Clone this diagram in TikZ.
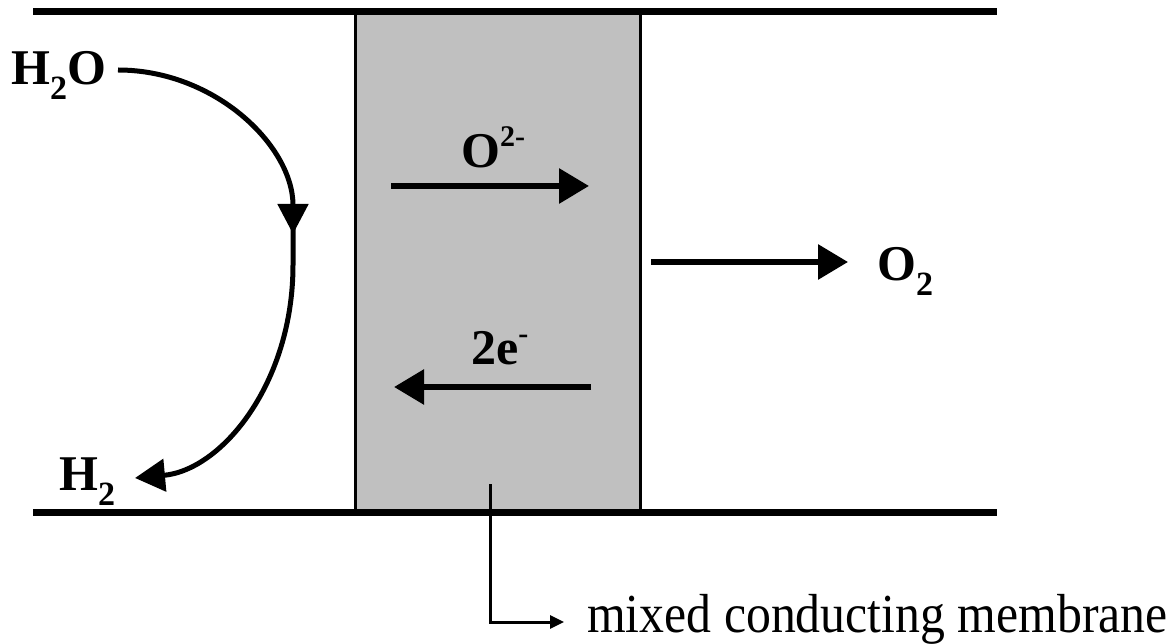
\documentclass[tikz,border=0pt]{standalone}
\usepackage{fontspec}
\setmainfont{Liberation Serif}
\usetikzlibrary{arrows.meta}
\newcommand\lowsub[1]{\raisebox{-0.3em}{\scalebox{0.68}{#1}}}
\newcommand\highsup[1]{\raisebox{0.42em}{\scalebox{0.6}{#1}}}
\begin{document}
\begin{tikzpicture}[x=1pt,y=-1pt,
  wall/.style={line width=7pt},
  memb/.style={fill={rgb,255:red,192;green,192;blue,192},draw=black,line width=3pt},
  arr/.style={line width=6pt,-{Triangle[length=30pt,width=34pt]}},
  chem/.style={font=\fontsize{50}{52}\selectfont\bfseries,inner sep=0pt},
  note/.style={font=\fontsize{55}{57}\selectfont,inner sep=0pt},
  ptr/.style={line width=3pt,-{Triangle[length=14pt,width=13pt]}}]
\useasboundingbox (0,0) rectangle (1176,644);
% membrane
\node[memb,minimum width=285pt,minimum height=500pt,anchor=north west,inner sep=0pt] (m) at (354,12) {};
% walls
\coordinate (tl) at (33,12); \coordinate (tr) at (997,12);
\coordinate (bl) at (33,512); \coordinate (br) at (997,512);
\draw[wall] (tl) -- (tr);
\draw[wall] (bl) -- (br);
% labels
\node[chem,anchor=base west] (h2o) at (11,85) {H\lowsub{2}O};
\node[chem,anchor=base west] (h2) at (59,490) {H\lowsub{2}};
\node[chem,anchor=base west] (ox) at (461,168) {O\highsup{2-}};
\node[chem,anchor=base west] (el) at (471,365) {2e\highsup{-}};
\node[chem,anchor=base west] (o2) at (877,281) {O\lowsub{2}};
\node[note,anchor=base west] (lbl) at (587,632) {\scalebox{0.905}[1]{mixed conducting membrane}};
% arrows in membrane
\coordinate (oxs) at (391,186); \coordinate (oxe) at (589,186);
\draw[arr] (oxs) -- (oxe);
\coordinate (els) at (591,387); \coordinate (ele) at (394,387);
\draw[arr] (els) -- (ele);
\coordinate (o2s) at (651,262); \coordinate (o2e) at (848,262);
\draw[arr] (o2s) -- (o2e);
% curved arrow
\coordinate (c0) at (118,70);
\coordinate (c1) at (293,234);
\coordinate (c2) at (293,224);
\coordinate (c3) at (293,265);
\coordinate (c4) at (135,478);
\draw[line width=5pt,-{Triangle[length=30pt,width=30pt]}] (c0) .. controls (215,70) and (293,146) .. (c1);
\draw[line width=5pt,-{Triangle[length=30pt,width=32pt]}] (c2) -- (c3) .. controls (293,383) and (222,470) .. (c4);
% pointer
\coordinate (p0) at (490,484);
\coordinate (p1) at (490,622);
\coordinate (p2) at (564,622);
\draw[ptr] (p0) -- (p1) -- (p2);
\end{tikzpicture}
\end{document}
